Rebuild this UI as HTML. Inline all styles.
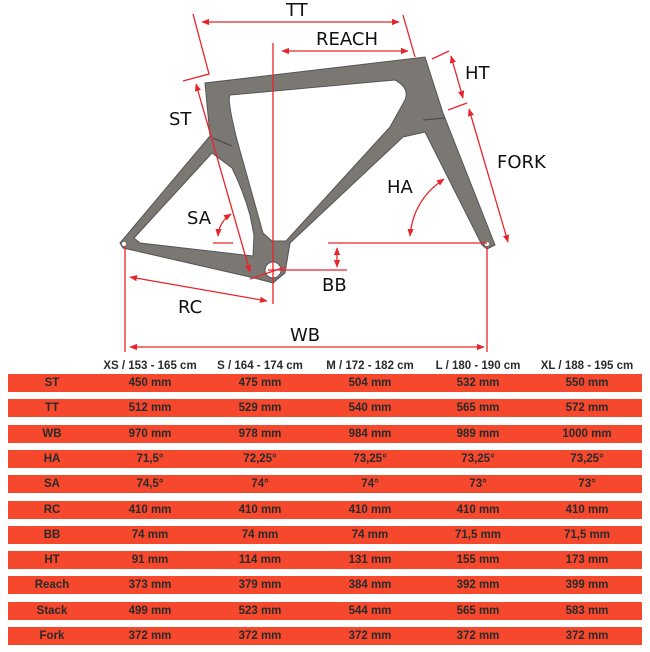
<!DOCTYPE html>
<html><head><meta charset="utf-8"><style>
body{margin:0;background:#fff;width:650px;height:652px;overflow:hidden;font-family:"Liberation Sans",sans-serif}
svg{position:absolute;left:0;top:0}
.r{position:absolute;left:8px;width:634px;height:18px;background:#f5482d}
.t{position:absolute;font:bold 11.5px "Liberation Sans",sans-serif;color:#2a2a2a;text-align:center;width:110px;white-space:nowrap;line-height:18px;height:18px}
</style></head><body>
<svg width="650" height="360" viewBox="0 0 650 360">
<defs><marker id="a" viewBox="0 0 10 10" refX="9" refY="5" markerWidth="6" markerHeight="6" orient="auto-start-reverse"><path d="M0,1 L10,5 L0,9z" fill="#e8242a"/></marker></defs>
<path fill="#7b7772" stroke="#555" stroke-width="1" fill-rule="evenodd" d="M120,243 L210,136 L205,83 L425,57 L443,113 L495,245 L487,249 L482,245 L425,132 L403,137 L290,243 L285,273 L273,283 L250,277 L123,248 Z
M230,95 L395,80 Q410,88 405,100 L390,127 L286,241 L272,241 L263,233 L237,140 Q227,100 230,95 Z
M134,238 L212,153 L232,168 Q243,190 250,215 L254,235 L253,256 L140,243 Z"/>
<path d="M213,138 L232,146" stroke="#444" fill="none"/>
<path d="M423,120 L445,118" stroke="#444" fill="none"/>
<circle cx="273" cy="270" r="8" fill="#fff" stroke="#555"/>
<circle cx="124" cy="244" r="2" fill="#fff"/><circle cx="487" cy="244" r="2" fill="#fff"/>
<g stroke="#e8242a" stroke-width="1.3" fill="none">
<line x1="202" y1="22" x2="399" y2="22" marker-start="url(#a)" marker-end="url(#a)"/>
<polyline points="193,14 209,74 183,81"/>
<line x1="403" y1="15" x2="415" y2="57"/>
<line x1="282" y1="51" x2="408" y2="51" marker-start="url(#a)" marker-end="url(#a)"/>
<line x1="273" y1="43" x2="273" y2="304"/>
<line x1="432" y1="59" x2="449" y2="51"/>
<line x1="448" y1="110" x2="467" y2="103"/>
<line x1="451" y1="56" x2="463" y2="98" marker-start="url(#a)" marker-end="url(#a)"/>
<line x1="469" y1="109" x2="508" y2="242" marker-start="url(#a)" marker-end="url(#a)"/>
<line x1="196" y1="84" x2="250" y2="272" marker-start="url(#a)" marker-end="url(#a)"/>
<path d="M444,179 Q413,200 410,236" marker-start="url(#a)" marker-end="url(#a)"/>
<path d="M231,214 Q219,222 218,236" marker-start="url(#a)" marker-end="url(#a)"/>
<line x1="213" y1="243" x2="233" y2="243"/>
<line x1="328" y1="243" x2="487" y2="243"/>
<line x1="268" y1="270" x2="347" y2="270"/>
<line x1="250" y1="279" x2="285" y2="267"/>
<line x1="337" y1="248" x2="337" y2="267" marker-start="url(#a)" marker-end="url(#a)"/>
<line x1="130" y1="277" x2="267" y2="301" marker-start="url(#a)" marker-end="url(#a)"/>
<line x1="125" y1="246" x2="125" y2="352"/>
<line x1="487" y1="246" x2="487" y2="352"/>
<line x1="130" y1="347" x2="484" y2="347" marker-start="url(#a)" marker-end="url(#a)"/>
</g>
<g font-family="DejaVu Sans,sans-serif" font-size="18" fill="#111">
<text x="286" y="16">TT</text><text x="316" y="45">REACH</text>
<text x="465" y="79">HT</text><text x="169" y="125">ST</text>
<text x="497" y="168">FORK</text><text x="387" y="193">HA</text>
<text x="187" y="224">SA</text><text x="322" y="291">BB</text>
<text x="178" y="313">RC</text><text x="290" y="341">WB</text>
</g>
</svg>
<div class="t" style="left:95px;top:357px">XS / 153 - 165 cm</div>
<div class="t" style="left:205px;top:357px">S / 164 - 174 cm</div>
<div class="t" style="left:315px;top:357px">M / 172 - 182 cm</div>
<div class="t" style="left:423px;top:357px">L / 180 - 190 cm</div>
<div class="t" style="left:532px;top:357px">XL / 188 - 195 cm</div>
<div class="r" style="top:374px"></div><div class="r" style="top:399px"></div><div class="r" style="top:425px"></div><div class="r" style="top:450px"></div><div class="r" style="top:475px"></div><div class="r" style="top:501px"></div><div class="r" style="top:526px"></div><div class="r" style="top:551px"></div><div class="r" style="top:576px"></div><div class="r" style="top:602px"></div><div class="r" style="top:627px"></div>
<div style="position:absolute;left:0;top:374px">
<div class="t" style="left:-3px;top:0">ST</div><div class="t" style="left:95px;top:0">450 mm</div><div class="t" style="left:205px;top:0">475 mm</div><div class="t" style="left:315px;top:0">504 mm</div><div class="t" style="left:423px;top:0">532 mm</div><div class="t" style="left:532px;top:0">550 mm</div>
<div class="t" style="left:-3px;top:25px">TT</div><div class="t" style="left:95px;top:25px">512 mm</div><div class="t" style="left:205px;top:25px">529 mm</div><div class="t" style="left:315px;top:25px">540 mm</div><div class="t" style="left:423px;top:25px">565 mm</div><div class="t" style="left:532px;top:25px">572 mm</div>
<div class="t" style="left:-3px;top:51px">WB</div><div class="t" style="left:95px;top:51px">970 mm</div><div class="t" style="left:205px;top:51px">978 mm</div><div class="t" style="left:315px;top:51px">984 mm</div><div class="t" style="left:423px;top:51px">989 mm</div><div class="t" style="left:532px;top:51px">1000 mm</div>
<div class="t" style="left:-3px;top:76px">HA</div><div class="t" style="left:95px;top:76px">71,5°</div><div class="t" style="left:205px;top:76px">72,25°</div><div class="t" style="left:315px;top:76px">73,25°</div><div class="t" style="left:423px;top:76px">73,25°</div><div class="t" style="left:532px;top:76px">73,25°</div>
<div class="t" style="left:-3px;top:101px">SA</div><div class="t" style="left:95px;top:101px">74,5°</div><div class="t" style="left:205px;top:101px">74°</div><div class="t" style="left:315px;top:101px">74°</div><div class="t" style="left:423px;top:101px">73°</div><div class="t" style="left:532px;top:101px">73°</div>
<div class="t" style="left:-3px;top:127px">RC</div><div class="t" style="left:95px;top:127px">410 mm</div><div class="t" style="left:205px;top:127px">410 mm</div><div class="t" style="left:315px;top:127px">410 mm</div><div class="t" style="left:423px;top:127px">410 mm</div><div class="t" style="left:532px;top:127px">410 mm</div>
<div class="t" style="left:-3px;top:152px">BB</div><div class="t" style="left:95px;top:152px">74 mm</div><div class="t" style="left:205px;top:152px">74 mm</div><div class="t" style="left:315px;top:152px">74 mm</div><div class="t" style="left:423px;top:152px">71,5 mm</div><div class="t" style="left:532px;top:152px">71,5 mm</div>
<div class="t" style="left:-3px;top:177px">HT</div><div class="t" style="left:95px;top:177px">91 mm</div><div class="t" style="left:205px;top:177px">114 mm</div><div class="t" style="left:315px;top:177px">131 mm</div><div class="t" style="left:423px;top:177px">155 mm</div><div class="t" style="left:532px;top:177px">173 mm</div>
<div class="t" style="left:-3px;top:202px">Reach</div><div class="t" style="left:95px;top:202px">373 mm</div><div class="t" style="left:205px;top:202px">379 mm</div><div class="t" style="left:315px;top:202px">384 mm</div><div class="t" style="left:423px;top:202px">392 mm</div><div class="t" style="left:532px;top:202px">399 mm</div>
<div class="t" style="left:-3px;top:228px">Stack</div><div class="t" style="left:95px;top:228px">499 mm</div><div class="t" style="left:205px;top:228px">523 mm</div><div class="t" style="left:315px;top:228px">544 mm</div><div class="t" style="left:423px;top:228px">565 mm</div><div class="t" style="left:532px;top:228px">583 mm</div>
<div class="t" style="left:-3px;top:253px">Fork</div><div class="t" style="left:95px;top:253px">372 mm</div><div class="t" style="left:205px;top:253px">372 mm</div><div class="t" style="left:315px;top:253px">372 mm</div><div class="t" style="left:423px;top:253px">372 mm</div><div class="t" style="left:532px;top:253px">372 mm</div>
</div>
</body></html>
